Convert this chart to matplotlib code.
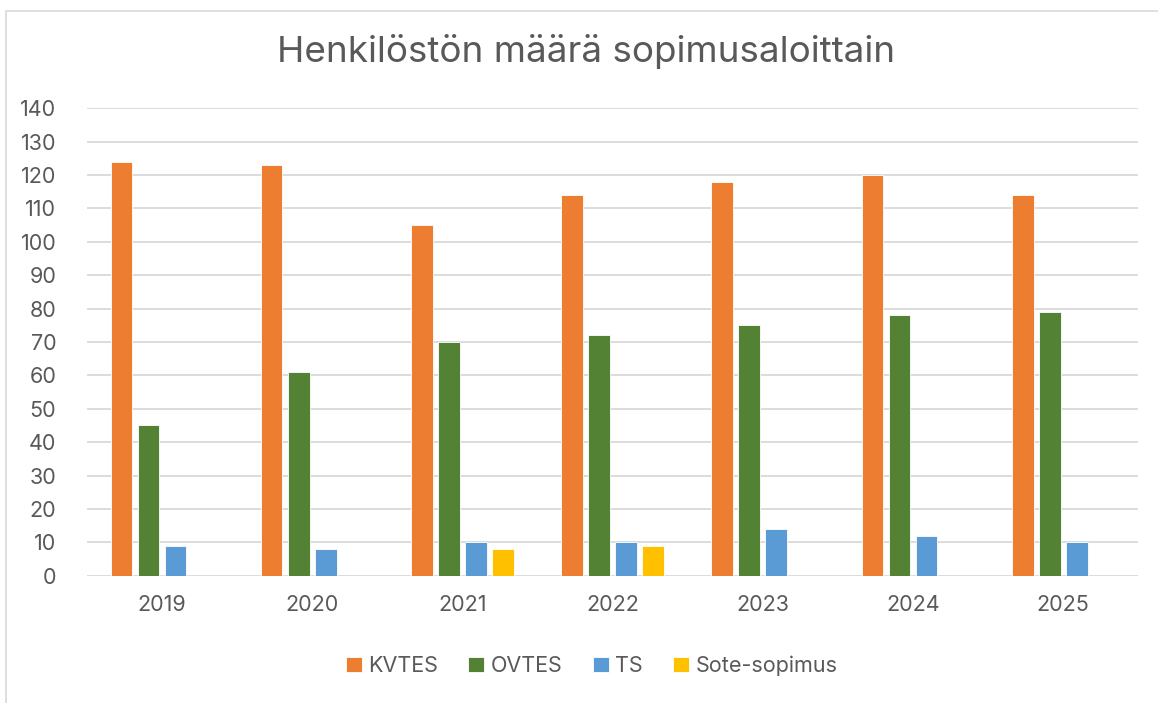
import numpy as np
import matplotlib
matplotlib.use("Agg")
import matplotlib.pyplot as plt
from matplotlib.patches import Rectangle

years = ["2019", "2020", "2021", "2022", "2023", "2024", "2025"]
kvtes = [124, 123, 105, 114, 118, 120, 114]
ovtes = [45, 61, 70, 72, 75, 78, 79]
ts = [9, 8, 10, 10, 14, 12, 10]
sote = [0, 0, 8, 9, 0, 0, 0]

series = [
    ("KVTES", kvtes, "#ED7D31"),
    ("OVTES", ovtes, "#548235"),
    ("TS", ts, "#5B9BD5"),
    ("Sote-sopimus", sote, "#FFC000"),
]

plt.rcParams['font.family'] = ['Inter', 'DejaVu Sans']
text_col = "#595959"

fig = plt.figure(figsize=(11.58, 7.03), dpi=100)
ax = fig.add_axes([0.075, 0.181, 0.908, 0.665])

x = np.arange(len(years))
step = 0.18
width = 0.145
for i, (name, vals, col) in enumerate(series):
    ax.bar(x + (i - 1.5) * step, vals, width, color=col, label=name,
           edgecolor="white", linewidth=0.6, zorder=3)

ax.set_xlim(-0.5, len(years) - 0.5)
ax.set_ylim(0, 140)
ax.set_yticks(np.arange(0, 141, 10))
ax.set_xticks(x)
ax.set_xticklabels(years)
ax.grid(axis="y", color="#D9D9D9", linewidth=1.3, zorder=0)
for s in ax.spines.values():
    s.set_visible(False)
ax.tick_params(axis="both", length=0, labelsize=15.5, colors=text_col)
ax.tick_params(axis="x", pad=14)
ax.tick_params(axis="y", pad=22)

fig.suptitle("Henkilöstön määrä sopimusaloittain", x=0.506, y=0.952,
             fontsize=26.5, color=text_col)

leg = fig.legend(loc="center", bbox_to_anchor=(0.511, 0.053), ncol=4,
                 frameon=False, fontsize=15.5, handlelength=0.75,
                 handleheight=0.75, handletextpad=0.3, columnspacing=1.4)
for t in leg.get_texts():
    t.set_color(text_col)

fig.patches.append(Rectangle((0.005, -0.01), 1.2, 0.995, transform=fig.transFigure,
                             fill=False, edgecolor="#D9D9D9", linewidth=1.2))

fig.savefig("out.png", dpi=100)
